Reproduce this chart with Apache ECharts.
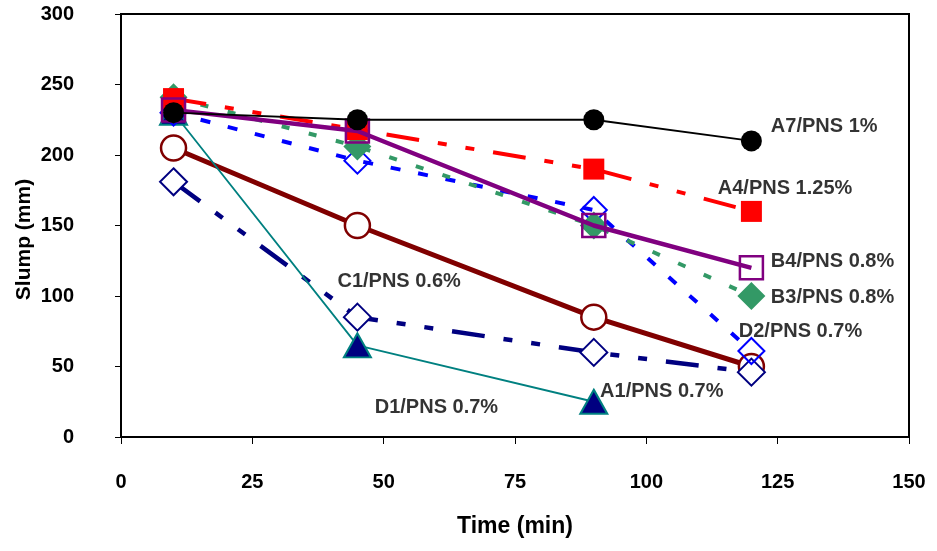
<!DOCTYPE html>
<html>
<head>
<meta charset="utf-8">
<script src="https://cdn.jsdelivr.net/npm/echarts@6/dist/echarts.min.js"></script>
<style>html,body{margin:0;padding:0;background:#fff}#c{width:937px;height:551px}</style>
</head>
<body>
<div id="c"></div>
<script>
// Time (min) values
var timesA = [10, 45, 90, 120];
var timesShort = [10, 45, 90];

// Slump (mm) series values
var a7 = [230, 225, 225, 210];
var a4 = [240, 218, 190, 160];
var b4 = [232, 217, 150, 120];
var b3 = [241, 206, 150, 100];
var d2 = [230, 196, 161, 61];
var c1 = [181, 85, 60, 46];
var darkRed = [205, 150, 85, 50];
var tri = [230, 65, 25];

// Annotation texts and anchor positions (data units: left edge, vertical middle)
var labelTexts = ['A7/PNS 1%', 'A4/PNS 1.25%', 'B4/PNS 0.8%', 'B3/PNS 0.8%', 'D2/PNS 0.7%', 'C1/PNS 0.6%', 'A1/PNS 0.7%', 'D1/PNS 0.7%'];
var labelX = [123.7, 113.6, 123.7, 123.7, 117.6, 41.2, 91.2, 48.3];
var labelY = [220, 176.6, 124.8, 98.6, 74.5, 110, 32.6, 20.6];

var xTicks = [0, 25, 50, 75, 100, 125, 150];
var yTicks = [0, 50, 100, 150, 200, 250, 300];

function pts(xs, ys) { return ys.map(function (v, i) { return [xs[i], v]; }); }

var font = 'Liberation Sans, Arial, sans-serif';

var chart = echarts.init(document.getElementById('c'), null, {renderer: 'canvas'});
chart.setOption({
  animation: false,
  backgroundColor: '#fff',
  grid: {left: 121, right: 28, top: 14, bottom: 114, show: true, borderColor: '#000', borderWidth: 2, backgroundColor: 'transparent'},
  xAxis: {
    type: 'value', min: xTicks[0], max: xTicks[xTicks.length - 1], interval: 25,
    name: 'Time (min)', nameLocation: 'middle', nameGap: 78, nameMoveOverlap: false,
    nameTextStyle: {fontFamily: font, fontWeight: 'bold', fontSize: 23, color: '#000'},
    axisLine: {show: true, lineStyle: {color: '#000', width: 2}},
    axisTick: {show: true, inside: false, length: 7, lineStyle: {color: '#000', width: 1}},
    axisLabel: {margin: 35, fontFamily: font, fontWeight: 'bold', fontSize: 20, color: '#000'},
    splitLine: {show: false}
  },
  yAxis: {
    type: 'value', min: yTicks[0], max: yTicks[yTicks.length - 1], interval: 50,
    name: 'Slump (mm)', nameLocation: 'middle', nameGap: 86, nameMoveOverlap: false,
    nameTextStyle: {fontFamily: font, fontWeight: 'bold', fontSize: 21, color: '#000', padding: [0, 0, 0, -28]},
    axisLine: {show: true, lineStyle: {color: '#000', width: 2}},
    axisTick: {show: true, inside: false, length: 6, lineStyle: {color: '#000', width: 1}},
    axisLabel: {margin: 47, fontFamily: font, fontWeight: 'bold', fontSize: 20, color: '#000'},
    splitLine: {show: false}
  },
  series: [
    {name: 'darkred', type: 'line', data: pts(timesA, darkRed), symbol: 'circle', symbolSize: 25,
      lineStyle: {color: '#800000', width: 5}, itemStyle: {color: '#fff', borderColor: '#800000', borderWidth: 2.5}, z: 2},
    {name: 'C1', type: 'line', data: pts(timesA, c1), symbol: 'diamond', symbolSize: [27, 27],
      lineStyle: {color: '#000080', width: 4.5, type: [33, 19, 9, 19, 9, 19]}, itemStyle: {color: '#fff', borderColor: '#000080', borderWidth: 2}, z: 3},
    {name: 'A1', type: 'line', data: pts(timesShort, tri), symbol: 'triangle', symbolSize: [27, 24],
      lineStyle: {color: '#008080', width: 1.8}, itemStyle: {color: '#000080', borderColor: '#008080', borderWidth: 2}, z: 4},
    {name: 'D2', type: 'line', data: pts(timesA, d2), symbol: 'diamond', symbolSize: [26, 26],
      lineStyle: {color: '#0000ff', width: 4, type: [10, 18]}, itemStyle: {color: 'rgba(255,255,255,0)', borderColor: '#0000ff', borderWidth: 2}, z: 5},
    {name: 'B3', type: 'line', data: pts(timesA, b3), symbol: 'diamond', symbolSize: [28, 28],
      lineStyle: {color: '#339966', width: 4, type: [8, 20]}, itemStyle: {color: '#339966', borderWidth: 0}, z: 6},
    {name: 'A4', type: 'line', data: pts(timesA, a4), symbol: 'rect', symbolSize: 21,
      lineStyle: {color: '#ff0000', width: 4, type: [33, 19, 9, 19, 9, 19]}, itemStyle: {color: '#ff0000', borderWidth: 0}, z: 7},
    {name: 'B4', type: 'line', data: pts(timesA, b4), symbol: 'rect', symbolSize: 23,
      lineStyle: {color: '#800080', width: 4.5}, itemStyle: {color: 'rgba(255,255,255,0)', borderColor: '#800080', borderWidth: 2.5}, z: 8},
    {name: 'A7', type: 'line', data: pts(timesA, a7), symbol: 'circle', symbolSize: 21,
      lineStyle: {color: '#000', width: 1.8}, itemStyle: {color: '#000', borderWidth: 0}, z: 9},
    {name: 'labels', type: 'scatter', symbolSize: 0, z: 10,
      data: labelTexts.map(function (t, i) { return {value: [labelX[i], labelY[i]], name: t}; }),
      label: {show: true, position: 'right', distance: 0, formatter: function (p) { return p.name; },
        fontFamily: font, fontWeight: 'bold', fontSize: 20, color: '#000'}}
  ]
});
</script>
</body>
</html>
